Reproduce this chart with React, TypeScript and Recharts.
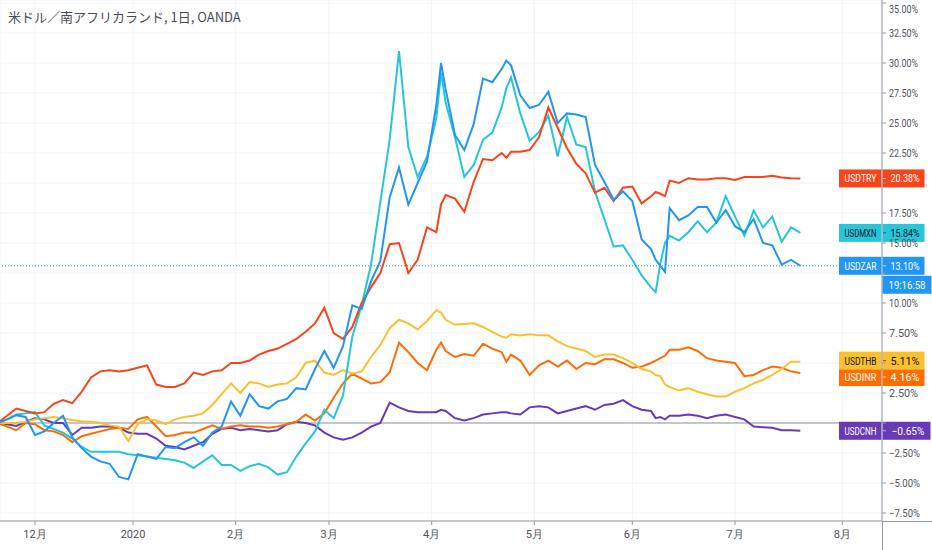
import { LineChart, Line, XAxis, YAxis, CartesianGrid, ReferenceLine } from 'recharts';

// trading-day index counted from the first bar (late Nov 2019)
const days = [
  0, 2, 4, 6, 8, 10, 12, 14, 16, 18,
  20, 22, 24, 26, 28, 30, 32, 34, 36, 38,
  40, 42, 44, 46, 48, 50, 52, 54, 56, 58,
  60, 62, 64, 66, 68, 70, 72, 74, 76, 78,
  80, 82, 84, 86, 88, 90, 92, 94,
  95, 96, 98, 100, 102, 104, 106, 108,
  109, 110, 112, 114, 116, 118, 120, 122, 124, 126,
  128, 130, 132, 134, 136, 138, 140, 141, 142, 143,
  144, 146, 148, 150, 152, 154, 156, 158, 160, 162,
  164, 166, 168, 170, 172,
];

const usdtry = [
  0, 0.6, 1.2, 1.0, 0.8, 0.9, 1.6, 1.9, 1.65, 2.6,
  3.8, 4.3, 4.4, 4.3, 4.4, 4.6, 4.8, 3.2, 3.0, 3.0,
  3.3, 4.2, 4.0, 4.3, 4.4, 5.0, 5.0, 5.2, 5.7, 6.0,
  6.2, 6.6, 7.0, 7.6, 8.3, 9.6, 7.5, 7.0, 8.0, 10.0,
  11.3, 12.5, 14.9, 15.0, 12.5, 13.6, 16.3, 15.9,
  18.2, 19.0, 18.7, 17.6, 20.1, 22.0, 21.9, 22.5,
  22.1, 22.6, 22.6, 22.75, 23.8, 26.3, 24.6, 22.9, 21.6, 20.8,
  19.2, 19.6, 18.5, 19.6, 19.7, 18.3, 18.9, 19.25, 19.1, 18.9,
  20.2, 20.0, 20.4, 20.3, 20.3, 20.4, 20.4, 20.25, 20.5, 20.5,
  20.5, 20.6, 20.45, 20.4, 20.38,
];

const usdmxn = [
  0, 0.3, 0.7, 0.8, 0.9, -0.2, -0.5, -0.8, -1.3, -2.0,
  -2.4, -2.4, -2.4, -2.4, -2.6, -2.7, -2.8, -2.9, -3.0, -3.1,
  -3.3, -3.75, -3.2, -2.7, -3.5, -3.5, -4.0, -3.6, -3.4, -3.7,
  -4.3, -4.1, -2.8, -1.7, -0.7, 1.1, 0.4, 2.3, 7.2, 9.8,
  13.2, 18.4, 23.6, 31.0, 23.0, 20.5, 22.2, 25.4,
  29.2, 26.7, 23.8, 20.5, 21.5, 23.6, 24.2, 26.3,
  27.9, 28.8, 25.8, 23.5, 24.25, 25.6, 22.2, 25.5, 23.2, 23.0,
  19.3, 17.0, 14.7, 14.8, 13.6, 12.3, 11.3, 10.9, 13.3, 15.0,
  15.6, 15.2, 15.9, 16.8, 15.9, 16.7, 18.9, 17.2, 15.6, 17.7,
  16.3, 17.2, 15.1, 16.3, 15.84,
];

const usdzar = [
  0, 0.3, 0.65, 0.5, -1.0, -0.7, 0, 0.6, -1.2, -2.1,
  -2.8, -3.2, -3.4, -4.5, -4.7, -2.6, -2.8, -3.0, -2.0, -2.1,
  -1.6, -1.2, -1.9, -0.8, -0.3, 1.8, 0.6, 2.4, 1.4, 1.2,
  1.8, 2.0, 2.9, 2.8, 4.5, 6.0, 4.6, 6.4, 9.8, 9.5,
  11.8, 13.5, 18.8, 21.3, 18.2, 20.0, 21.8, 26.5,
  30.0, 27.8, 24.0, 22.75, 24.9, 28.7, 28.4, 29.5,
  30.2, 29.8, 27.3, 26.25, 26.5, 27.6, 25.0, 25.8, 25.7, 25.5,
  21.5, 20.1, 18.6, 19.3, 18.5, 15.3, 14.5, 13.6, 13.1, 12.6,
  17.9, 16.9, 17.3, 18.0, 18.0, 16.7, 17.75, 16.4, 15.9, 17.0,
  15.0, 14.8, 13.2, 13.6, 13.1,
];

const usdthb = [
  0, 0, 0, 0.1, 0.3, 0.4, 0.5, 0.4, 0.25, 0.15,
  0.1, 0, -0.2, -0.3, -1.5, -0.1, 0.3, 0.2, -0.1, 0.3,
  0.5, 0.6, 0.8, 1.5, 2.4, 3.3, 2.5, 3.4, 3.3, 3.0,
  3.2, 3.3, 3.8, 5.0, 5.2, 4.2, 4.0, 4.4, 4.1, 4.3,
  5.5, 6.5, 7.9, 8.6, 8.3, 7.8, 8.5, 9.4,
  9.2, 8.6, 8.2, 8.25, 8.3, 8.0, 7.6, 7.2,
  7.1, 7.4, 7.3, 7.4, 7.3, 7.3, 6.8, 6.4, 6.2, 6.0,
  5.5, 5.7, 5.7, 5.4, 5.0, 4.5, 4.3, 4.0, 3.9, 3.2,
  3.0, 2.7, 2.9, 2.6, 2.4, 2.2, 2.2, 2.6, 2.9, 3.3,
  3.6, 4.0, 4.5, 5.1, 5.11,
];

const usdinr = [
  0, -0.3, -0.6, 0, -0.1, -0.6, -0.7, -1.0, -1.6, -1.1,
  -0.9, -0.7, -0.5, -0.4, -0.5, 0.3, 0.5, -0.3, -1.1, -1.0,
  -0.8, -0.8, -0.5, -0.2, -0.5, -0.3, -0.2, -0.3, -0.3, -0.4,
  -0.3, -0.1, 0.1, 0.7, 0.2, 0.8, 2.1, 3.3, 4.1, 3.7,
  3.3, 3.4, 4.2, 6.7, 5.9, 5.0, 4.4, 6.1,
  6.7, 6.0, 5.5, 5.75, 5.6, 6.6, 6.2, 5.9,
  5.1, 5.7, 5.2, 4.0, 4.8, 5.2, 4.7, 5.2, 4.5, 5.0,
  4.9, 5.3, 5.3, 5.0, 4.6, 4.7, 5.0, 5.2, 5.4, 5.6,
  6.1, 6.1, 6.3, 6.0, 5.4, 5.2, 5.1, 5.0, 3.9, 4.0,
  4.4, 4.7, 4.6, 4.3, 4.16,
];

const usdcnh = [
  0, -0.1, -0.25, 0.1, 0.4, 0.3, 0, 0, -1.0, -0.4,
  -0.4, -0.3, -0.3, -0.4, -0.8, -0.9, -0.9, -1.3, -1.9, -2.0,
  -2.2, -1.9, -1.6, -0.9, -0.5, -0.4, -0.6, -0.5, -0.6, -0.7,
  -0.6, -0.1, 0.1, 0, -0.2, -0.8, -1.2, -1.4, -1.2, -0.8,
  -0.3, 0, 1.7, 1.3, 1.0, 0.9, 0.9, 0.9,
  1.1, 1.0, 0.4, 0.2, 0.4, 0.7, 0.8, 0.9,
  0.9, 0.8, 0.7, 1.3, 1.4, 1.3, 0.8, 1.0, 1.2, 1.4,
  1.1, 1.5, 1.6, 1.9, 1.4, 1.1, 1.0, 0.4, 0.5, 0.3,
  0.6, 0.6, 0.7, 0.6, 0.4, 0.6, 0.7, 0.5, 0.3, -0.3,
  -0.35, -0.4, -0.6, -0.6, -0.65,
];

const monthTicks = [8, 29, 51, 71, 93, 115, 136, 158, 181];
const monthLabels = ['12月', '2020', '2月', '3月', '4月', '5月', '6月', '7月', '8月'];
const pctTicks = [-7.5, -5, -2.5, 0, 2.5, 5, 7.5, 10, 12.5, 15, 17.5, 20, 22.5, 25, 27.5, 30, 32.5, 35];

const series = [
  { key: 'USDCNH', values: usdcnh, color: '#673ab7', text: '#ffffff', nudge: 0 },
  { key: 'USDINR', values: usdinr, color: '#ff6d00', text: '#ffffff', nudge: 4 },
  { key: 'USDTHB', values: usdthb, color: '#fbc02d', text: '#131722', nudge: -1 },
  { key: 'USDMXN', values: usdmxn, color: '#26c6da', text: '#131722', nudge: 0 },
  { key: 'USDTRY', values: usdtry, color: '#f7441a', text: '#ffffff', nudge: 0 },
  { key: 'USDZAR', values: usdzar, color: '#2196f3', text: '#ffffff', nudge: 0 },
];

const data = days.map((day, i) => {
  const row: any = { day };
  series.forEach(s => { row[s.key] = s.values[i]; });
  return row;
});

const FONT = 'Roboto, "Noto Sans", sans-serif';

const fmtPct = (v: number) => (v < 0 ? '\u2212' : '') + Math.abs(v).toFixed(2) + '%';

// last values, where the price labels sit (ticks behind them are covered)
const lastValues = series.map(s => s.values[s.values.length - 1] - s.nudge / 12);

const YTick = ({ x, y, payload }: any) => {
  const v = payload.value;
  if (lastValues.some(c => Math.abs(c - v) < 0.75)) return null;
  return (
    <text
      x={x}
      y={y + 4}
      fill="#50535e"
      fontSize={11}
      fontFamily={FONT}
      textLength={v < 0 ? 31 : 29}
      lengthAdjust="spacingAndGlyphs"
    >
      {fmtPct(v)}
    </text>
  );
};

const EndLabel = ({ viewBox, name, value, color, text, nudge, time }: any) => {
  if (!viewBox) return null;
  const right = viewBox.x + viewBox.width;
  const y = viewBox.y + nudge;
  const valText = fmtPct(value);
  const valW = value < 0 ? 48 : 42;
  return (
    <g style={{ fontFamily: FONT, fontSize: 11 }}>
      <rect x={right - 43} y={y - 9} width={42.5} height={18} fill={color} />
      <rect x={right + 0.5} y={y - 9} width={valW} height={18} fill={color} />
      <line x1={right + 1} x2={right + 4} y1={y} y2={y} stroke={text} strokeOpacity={0.6} />
      <text x={right - 21.5} y={y + 4} textAnchor="middle" fill={text} textLength={32} lengthAdjust="spacingAndGlyphs">{name}</text>
      <text x={right + 4 + (valW - 4) / 2} y={y + 4} textAnchor="middle" fill={text} textLength={value < 0 ? 33 : 29} lengthAdjust="spacingAndGlyphs">{valText}</text>
      {time && (
        <g>
          <rect x={right + 0.5} y={y + 10} width={49} height={18} fill={color} />
          <text x={right + 25} y={y + 23} textAnchor="middle" fill="#ffffff" textLength={37} lengthAdjust="spacingAndGlyphs">{time}</text>
        </g>
      )}
    </g>
  );
};

export default function App() {
  return (
    <div style={{ position: 'relative', width: 932, height: 550, background: '#ffffff' }}>
      <style>{`body{margin:0}`}</style>
      <LineChart width={932} height={550} data={data} margin={{ top: 0, right: 0, bottom: 0, left: 0 }}>
        <CartesianGrid stroke="#f0f3fa" />
        <XAxis
          type="number"
          dataKey="day"
          domain={[0.5, 189.5]}
          allowDataOverflow
          ticks={monthTicks}
          tickFormatter={(v: number) => monthLabels[monthTicks.indexOf(v)]}
          height={29}
          tickSize={4}
          tickMargin={5}
          stroke="#9598a1"
          tick={{ fill: '#50535e', fontSize: 11, fontFamily: FONT }}
        />
        <YAxis
          orientation="right"
          width={50}
          domain={[-8.17, 35.25]}
          allowDataOverflow
          ticks={pctTicks}
          tickSize={4}
          tickMargin={3}
          stroke="#9598a1"
          tick={<YTick />}
        />
        <ReferenceLine y={0} stroke="#b2b5be" strokeWidth={1.5} />
        {series.map(s => (
          <Line
            key={s.key}
            type="linear"
            dataKey={s.key}
            stroke={s.color}
            strokeWidth={2}
            dot={false}
            isAnimationActive={false}
          />
        ))}
        {series.map(s => {
          const last = s.values[s.values.length - 1];
          const isMain = s.key === 'USDZAR';
          return (
            <ReferenceLine
              key={'lbl' + s.key}
              y={last}
              stroke={isMain ? s.color : 'none'}
              strokeDasharray={isMain ? '1 2' : undefined}
              label={(props: any) => (
                <EndLabel
                  {...props}
                  name={s.key}
                  value={last}
                  color={s.color}
                  text={s.text}
                  nudge={s.nudge}
                  time={isMain ? '19:16:58' : undefined}
                />
              )}
            />
          );
        })}
      </LineChart>
      <div style={{ position: 'absolute', left: 882, top: 521, width: 50, height: 1, background: '#9598a1' }} />
      <div style={{ position: 'absolute', left: 882, top: 521, width: 1, height: 29, background: '#9598a1' }} />
      <div
        style={{
          position: 'absolute',
          left: 8,
          top: 7,
          fontFamily: '"Noto Sans CJK JP", "Noto Sans", sans-serif',
          fontSize: 13,
          color: '#4a4e59',
        }}
      >
        米ドル／南アフリカランド, 1日, OANDA
      </div>
    </div>
  );
}
